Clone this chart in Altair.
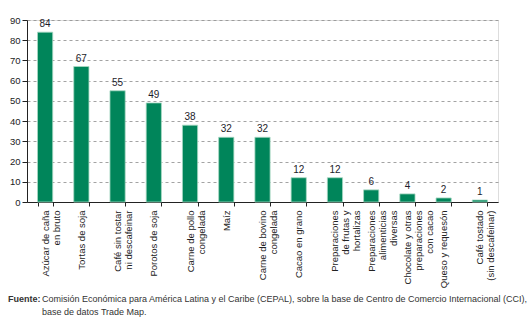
import altair as alt
import pandas as pd

categories = [
    "Azúcar de caña|en bruto",
    "Tortas de soja",
    "Café sin tostar|ni descafeinar",
    "Porotos de soja",
    "Carne de pollo|congelada",
    "Maíz",
    "Carne de bovino|congelada",
    "Cacao en grano",
    "Preparaciones|de frutas y|hortalizas",
    "Preparaciones|alimenticias|diversas",
    "Chocolate y otras|preparaciones|con cacao",
    "Queso y requesón",
    "Café tostado|(sin descafeinar)",
]
values = [84, 67, 55, 49, 38, 32, 32, 12, 12, 6, 4, 2, 1]
y_ticks = [0, 10, 20, 30, 40, 50, 60, 70, 80, 90]

df = pd.DataFrame({"cat": categories, "val": values})

FONT = "Liberation Sans"
GREEN = "#00855a"

x = alt.X(
    "cat:N",
    sort=categories,
    title=None,
    scale=alt.Scale(paddingInner=0.58, paddingOuter=0.29),
    axis=alt.Axis(
        labelAngle=-90,
        labelAlign="right",
        labelBaseline="middle",
        labelExpr="split(datum.label, '|')",
        labelFont=FONT,
        labelFontSize=9.5,
        labelColor="#222",
        labelLineHeight=11,
        labelPadding=4,
        labelOverlap=False,
        tickBand="extent",
        tickSize=4,
        tickColor="#222",
        domainColor="#222",
        labelLimit=0,
        grid=False,
    ),
)
y = alt.Y(
    "val:Q",
    title=None,
    scale=alt.Scale(domain=[0, 90], nice=False),
    axis=alt.Axis(
        values=y_ticks,
        tickCount=10,
        labelOverlap=False,
        labelFont=FONT,
        labelFontSize=9.5,
        labelColor="#222",
        tickSize=5,
        tickColor="#222",
        domainColor="#222",
        labelPadding=2,
        grid=True,
        gridDash=[3, 3],
        gridColor="#8c8c8c",
        gridWidth=0.8,
    ),
)

base = alt.Chart(df)
bars = base.mark_bar(color=GREEN, stroke="#a9d9c4", strokeWidth=0.8).encode(x=x, y=y)
labels = base.mark_text(
    dy=-3, font=FONT, fontSize=10, color="#1d1d2b", baseline="bottom"
).encode(x=x, y=y, text="val:Q")

foot_df = pd.DataFrame({"t": ["x"]})
fuente = alt.Chart(foot_df).mark_text(
    text="Fuente:", font=FONT, fontSize=9, fontWeight="bold", color="#333",
    align="left", baseline="middle",
).encode(x=alt.value(-19), y=alt.value(279))
foot1 = alt.Chart(foot_df).mark_text(
    text="Comisión Económica para América Latina y el Caribe (CEPAL), sobre la base de Centro de Comercio Internacional (CCI),",
    font=FONT, fontSize=9, color="#333", align="left", baseline="middle",
).encode(x=alt.value(15), y=alt.value(279))
foot2 = alt.Chart(foot_df).mark_text(
    text="base de datos Trade Map.",
    font=FONT, fontSize=9, color="#333", align="left", baseline="middle",
).encode(x=alt.value(15), y=alt.value(292))

chart = alt.layer(bars, labels, fuente, foot1, foot2).properties(
    width=471,
    height=182,
    autosize=alt.AutoSizeParams(type="none"),
    padding={"left": 27, "top": 20, "right": 34, "bottom": 130},
).configure_view(stroke=None).configure(background="white")

chart.save("out.html", embed_options={"renderer": "svg", "actions": False})
